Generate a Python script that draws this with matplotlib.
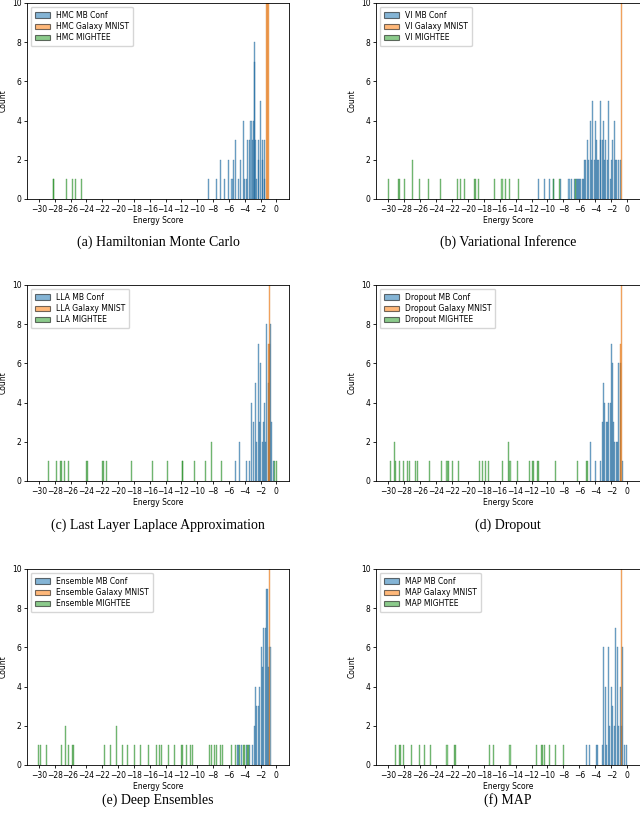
import numpy as np
import matplotlib.pyplot as plt

methods = ['HMC', 'VI', 'LLA', 'Dropout', 'Ensemble', 'MAP']
captions = ['(a) Hamiltonian Monte Carlo', '(b) Variational Inference',
            '(c) Last Layer Laplace Approximation', '(d) Dropout',
            '(e) Deep Ensembles', '(f) MAP']

# energy score bin positions and counts
hmc_mb_x = [-8.6, -7.5, -7.1, -6.5, -6.1, -5.6, -5.4, -5.1, -4.8, -4.5, -4.2, -4.0, -3.8,
            -3.6, -3.4, -3.2, -3.0, -2.9, -2.8, -2.7, -2.6, -2.5, -2.3, -2.2, -2.0, -1.8,
            -1.7, -1.55, -1.45]
hmc_mb_n = [1, 1, 2, 1, 2, 1, 2, 3, 1, 2, 4, 1, 1, 3, 3, 4, 3, 4, 8, 7, 3, 1, 2, 3, 5, 2, 3, 1, 3]
hmc_gm_x = [-1.25, -1.1, -0.98]
hmc_gm_n = [30, 30, 20]
hmc_mi_x = [-28.2, -28.1, -26.5, -25.7, -25.4, -24.6]
hmc_mi_n = [1, 1, 1, 1, 1, 1]

vi_mb_x = [-11.1, -10.4, -9.8, -9.2, -8.4, -7.3, -7.0, -6.6, -6.4, -6.25, -6.1, -5.95, -5.8,
           -5.65, -5.5, -5.35, -5.2, -5.0, -4.85, -4.6, -4.45, -4.3, -4.15, -4.0, -3.85,
           -3.7, -3.55, -3.4, -3.3, -3.15, -3.0, -2.85, -2.7, -2.5, -2.3, -2.15, -2.0,
           -1.8, -1.6, -1.45, -1.3, -1.1, -0.9]
vi_mb_n = [1, 1, 1, 1, 1, 1, 1, 1, 1, 1, 1, 1, 1, 1, 1, 2, 2, 3, 2, 4, 2, 5, 2, 4, 3,
           2, 2, 3, 5, 3, 4, 2, 3, 2, 5, 1, 2, 3, 4, 2, 2, 2, 2]
vi_gm_x = [-0.75]
vi_gm_n = [40]
vi_mi_x = [-29.95, -28.7, -28.5, -27.9, -26.9, -26.0, -24.9, -23.4, -21.3, -20.9, -20.4,
           -19.2, -19.05, -18.6, -16.6, -15.7, -15.3, -14.8, -13.6, -9.2, -8.5, -6.5]
vi_mi_n = [1, 1, 1, 1, 2, 1, 1, 1, 1, 1, 1, 1, 1, 1, 1, 1, 1, 1, 1, 1, 1, 1]

lla_mb_x = [-5.1, -4.7, -3.8, -3.4, -3.1, -2.85, -2.65, -2.45, -2.25, -2.1, -1.95, -1.8,
            -1.65, -1.5, -1.35, -1.2, -1.05, -0.9, -0.75, -0.6, -0.4]
lla_mb_n = [1, 2, 1, 1, 4, 3, 5, 2, 7, 3, 6, 2, 3, 4, 2, 8, 5, 7, 8, 3, 1]
lla_gm_x = [-0.98, -0.85]
lla_gm_n = [7, 40]
lla_mi_x = [-28.8, -27.8, -27.3, -27.15, -26.8, -26.3, -24.0, -23.8, -22.0, -21.85, -21.4,
            -18.25, -15.7, -13.8, -11.9, -11.8, -10.4, -9.0, -8.2, -6.9, -0.2, 0.05]
lla_mi_n = [1, 1, 1, 1, 1, 1, 1, 1, 1, 1, 1, 1, 1, 1, 1, 1, 1, 1, 2, 1, 1, 1]

do_mb_x = [-4.55, -4.0, -3.4, -3.1, -2.95, -2.8, -2.65, -2.45, -2.3, -2.15, -2.0, -1.9,
           -1.75, -1.6, -1.4, -1.2, -1.05, -0.9, -0.6]
do_mb_n = [2, 1, 1, 3, 5, 4, 3, 3, 4, 4, 7, 6, 3, 2, 2, 2, 6, 6, 1]
do_gm_x = [-0.9, -0.75]
do_gm_n = [7, 40]
do_mi_x = [-29.7, -29.2, -29.05, -28.6, -28.1, -27.6, -27.3, -26.5, -26.35, -24.8, -23.3,
           -22.6, -22.4, -21.9, -21.1, -18.5, -18.1, -17.8, -17.4, -15.6, -14.9, -14.7,
           -13.7, -12.3, -11.9, -11.75, -11.3, -11.15, -9.0, -6.2, -5.1, -4.95]
do_mi_n = [1, 2, 1, 1, 1, 1, 1, 1, 1, 1, 1, 1, 1, 1, 1, 1, 1, 1, 1, 1, 2, 1,
           1, 1, 1, 1, 1, 1, 1, 1, 1, 1]

ens_mb_x = [-4.95, -4.8, -4.4, -3.8, -3.35, -3.05, -2.8, -2.6, -2.45, -2.25, -2.1, -1.9,
            -1.75, -1.6, -1.4, -1.28, -1.1, -0.98, -0.8]
ens_mb_n = [1, 1, 1, 1, 1, 1, 2, 4, 3, 3, 4, 6, 5, 7, 7, 9, 9, 5, 6]
ens_gm_x = [-0.85]
ens_gm_n = [40]
ens_mi_x = [-30.0, -29.8, -29.0, -27.1, -26.6, -26.3, -25.8, -25.65, -21.65, -20.9,
            -20.25, -19.45, -18.8, -17.95, -17.2, -16.2, -15.1, -14.8, -14.5, -13.6,
            -12.9, -11.95, -11.8, -11.3, -10.9, -10.6, -8.5, -8.2, -7.8, -7.5, -7.0,
            -6.8, -5.7, -5.1, -4.6, -4.2, -4.05, -3.7, -3.5]
ens_mi_n = [1, 1, 1, 1, 2, 1, 1, 1, 1, 1, 2, 1, 1, 1, 1, 1, 1, 1, 1, 1,
            1, 1, 1, 1, 1, 1, 1, 1, 1, 1, 1, 1, 1, 1, 1, 1, 1, 1, 1]

map_mb_x = [-5.15, -4.7, -3.85, -3.7, -3.1, -2.95, -2.75, -2.6, -2.35, -2.2, -2.0, -1.8,
            -1.65, -1.45, -1.25, -1.1, -0.9, -0.75, -0.6, -0.35, -0.15]
map_mb_n = [1, 1, 1, 1, 1, 6, 4, 1, 6, 2, 4, 3, 2, 7, 6, 2, 4, 2, 6, 1, 1]
map_gm_x = [-0.72]
map_gm_n = [40]
map_mi_x = [-29.0, -28.6, -28.45, -28.0, -27.0, -26.0, -25.4, -24.7, -22.6, -21.7, -21.5,
            -17.3, -16.8, -14.7, -11.4, -10.8, -10.65, -10.4, -9.7, -9.0, -8.0]
map_mi_n = [1] * 21

data = [
    (hmc_mb_x, hmc_mb_n, hmc_gm_x, hmc_gm_n, hmc_mi_x, hmc_mi_n),
    (vi_mb_x, vi_mb_n, vi_gm_x, vi_gm_n, vi_mi_x, vi_mi_n),
    (lla_mb_x, lla_mb_n, lla_gm_x, lla_gm_n, lla_mi_x, lla_mi_n),
    (do_mb_x, do_mb_n, do_gm_x, do_gm_n, do_mi_x, do_mi_n),
    (ens_mb_x, ens_mb_n, ens_gm_x, ens_gm_n, ens_mi_x, ens_mi_n),
    (map_mb_x, map_mb_n, map_gm_x, map_gm_n, map_mi_x, map_mi_n),
]

colors = ['#1f77b4', '#ff7f0e', '#2ca02c']
edges = ['#1b5a8a', '#c8650a', '#237d23']

fig = plt.figure(figsize=(6.4, 8.17), dpi=100)
W, H = 640, 817
lefts = [27, 376]
widths = [262, 264]
tops = [3, 285, 569]
cap_y = [242, 525, 800]

for i in range(6):
    r, c = divmod(i, 2)
    ax = fig.add_axes([lefts[c] / W, 1 - (tops[r] + 196) / H, widths[c] / W, 196 / H])
    mbx, mbn, gmx, gmn, mix, min_ = data[i]
    m = methods[i]
    for xs, ns, col, ec, lab in [(mbx, mbn, colors[0], edges[0], m + ' MB Conf'),
                                 (gmx, gmn, colors[1], edges[1], m + ' Galaxy MNIST'),
                                 (mix, min_, colors[2], edges[2], m + ' MIGHTEE')]:
        ax.bar(xs, ns, width=0.13, color=col, alpha=0.55,
               edgecolor=ec, linewidth=0.35, label=lab)
    ax.set_xlim(-31.5, 1.6)
    ax.set_ylim(0, 10)
    ax.set_xticks(np.arange(-30, 1, 2))
    ax.set_yticks(np.arange(0, 11, 2))
    ax.tick_params(labelsize=5.5, length=2.5, width=0.6, pad=1.5)
    ax.set_xlabel('Energy Score', fontsize=5.5, labelpad=2)
    ax.set_ylabel('Count', fontsize=5.5, labelpad=3)
    for s in ax.spines.values():
        s.set_linewidth(0.6)
    leg = ax.legend(loc='upper left', fontsize=5.5, handlelength=2.0, borderpad=0.5,
                    labelspacing=0.3, framealpha=0.8)
    for h in leg.legend_handles:
        h.set_edgecolor('black')
        h.set_linewidth(0.8)
    fig.text((lefts[c] + widths[c] / 2) / W, 1 - cap_y[r] / H, captions[i],
             ha='center', va='center', fontsize=10, family='Liberation Serif')

fig.savefig('out.png', dpi=100)
